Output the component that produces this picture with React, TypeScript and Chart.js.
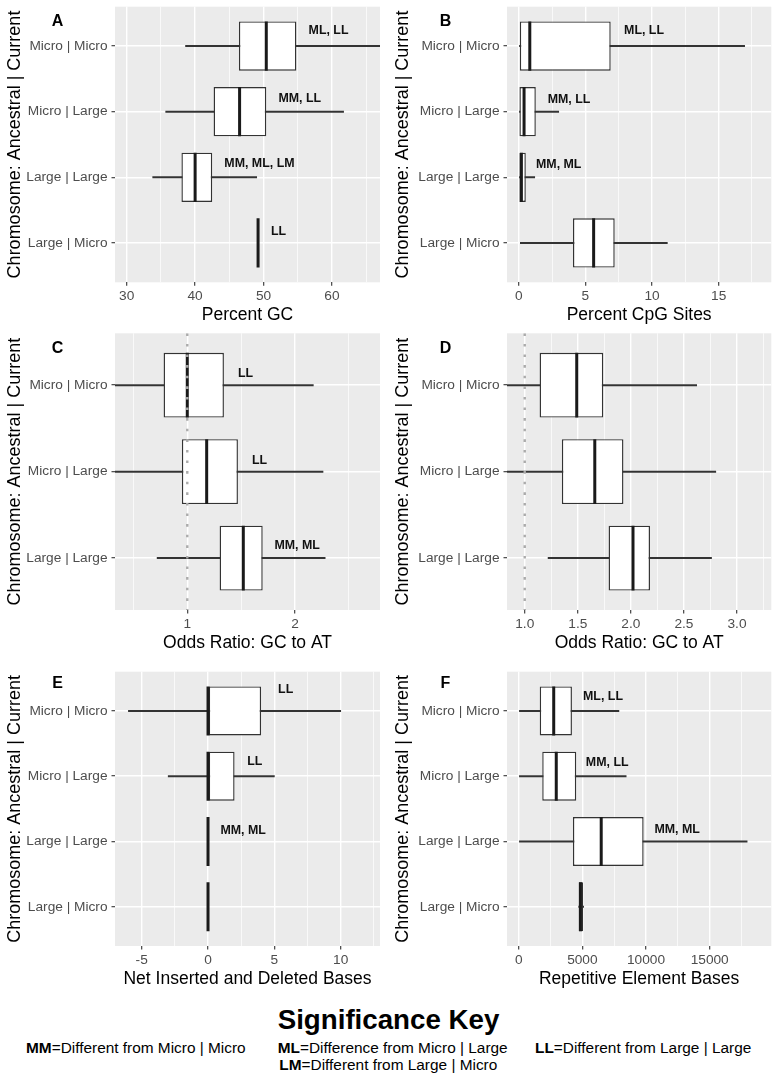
import React, { useEffect, useRef } from "react";
import { Chart, registerables } from "chart.js";

Chart.register(...registerables);

const FONT = '"Liberation Sans", Arial, Helvetica, sans-serif';

// ---------- categories ----------
const CATS_4 = ["Micro | Micro", "Micro | Large", "Large | Large", "Large | Micro"];
const CATS_3 = ["Micro | Micro", "Micro | Large", "Large | Large"];
const Y_TITLE = "Chromosome: Ancestral | Current";

// ---------- Panel A : Percent GC ----------
const A_MIN = [38.6, 35.7, 33.8, 49.2];
const A_Q1 = [46.4, 42.7, 38.0, 49.2];
const A_MED = [50.4, 46.5, 40.0, 49.2];
const A_Q3 = [54.8, 50.4, 42.5, 49.2];
const A_MAX = [67.0, 61.7, 49.0, 49.2];
const A_RANGE = [28.29, 67.02];
const A_TICKS = [30, 40, 50, 60];
const A_TICK_LABELS = ["30", "40", "50", "60"];
const A_MINOR = [35, 45, 55, 65];
const A_NOTES = ["ML, LL", "MM, LL", "MM, ML, LM", "LL"];
const A_NOTE_X = [59.5, 55.3, 49.4, 52.2];
const A_NOTE_DY = [-0.23, -0.2, -0.21, -0.175];

// ---------- Panel B : Percent CpG Sites ----------
const B_MIN = [0, 0, 0, 0.12];
const B_Q1 = [0.08, 0.0, 0.0, 4.07];
const B_MED = [0.83, 0.4, 0.2, 5.62];
const B_Q3 = [6.9, 1.28, 0.53, 7.2];
const B_MAX = [16.95, 3.0, 1.2, 11.15];
const B_RANGE = [-0.88, 18.95];
const B_TICKS = [0, 5, 10, 15];
const B_TICK_LABELS = ["0", "5", "10", "15"];
const B_MINOR = [2.5, 7.5, 12.5, 17.5];
const B_NOTES = ["ML, LL", "MM, LL", "MM, ML", ""];
const B_NOTE_X = [9.4, 3.77, 3.0, 0];
const B_NOTE_DY = [-0.235, -0.19, -0.2, 0];

// ---------- Panel C : Odds Ratio GC to AT ----------
const C_MIN = [0.33, 0.33, 0.72];
const C_Q1 = [0.78, 0.95, 1.30];
const C_MED = [1.0, 1.18, 1.52];
const C_Q3 = [1.34, 1.47, 1.70];
const C_MAX = [2.17, 2.26, 2.28];
const C_RANGE = [0.329, 2.789];
const C_TICKS = [1, 2];
const C_TICK_LABELS = ["1", "2"];
const C_MINOR = [0.5, 1.5, 2.5];
const C_NOTES = ["LL", "LL", "MM, ML"];
const C_NOTE_X = [1.54, 1.67, 2.02];
const C_NOTE_DY = [-0.135, -0.132, -0.146];
const C_REF = 1;

// ---------- Panel D : Odds Ratio GC to AT ----------
const D_MIN = [0.833, 0.833, 1.22];
const D_Q1 = [1.14, 1.35, 1.79];
const D_MED = [1.49, 1.66, 2.02];
const D_Q3 = [1.74, 1.93, 2.18];
const D_MAX = [2.62, 2.80, 2.76];
const D_RANGE = [0.833, 3.323];
const D_TICKS = [1.0, 1.5, 2.0, 2.5, 3.0];
const D_TICK_LABELS = ["1.0", "1.5", "2.0", "2.5", "3.0"];
const D_MINOR = [1.25, 1.75, 2.25, 2.75, 3.25];
const D_NOTES = ["", "", ""];
const D_NOTE_X = [0, 0, 0];
const D_NOTE_DY = [0, 0, 0];
const D_REF = 1;

// ---------- Panel E : Net Inserted and Deleted Bases ----------
const E_MIN = [-6.0, -3.0, 0, 0];
const E_Q1 = [0, 0, 0, 0];
const E_MED = [0, 0, 0, 0];
const E_Q3 = [4.0, 2.0, 0, 0];
const E_MAX = [10.0, 5.0, 0, 0];
const E_RANGE = [-7.01, 12.96];
const E_TICKS = [-5, 0, 5, 10];
const E_TICK_LABELS = ["-5", "0", "5", "10"];
const E_MINOR = [-2.5, 2.5, 7.5, 12.5];
const E_NOTES = ["LL", "LL", "MM, ML", ""];
const E_NOTE_X = [5.85, 3.53, 2.65, 0];
const E_NOTE_DY = [-0.33, -0.22, -0.16, 0];

// ---------- Panel F : Repetitive Element Bases ----------
const F_MIN = [0, 0, 0, 4710];
const F_Q1 = [1650, 1850, 4260, 4710];
const F_MED = [2750, 2950, 6480, 4850];
const F_Q3 = [4180, 4520, 9810, 5050];
const F_MAX = [7870, 8440, 17940, 5100];
const F_RANGE = [-919, 19838];
const F_TICKS = [0, 5000, 10000, 15000];
const F_TICK_LABELS = ["0", "5000", "10000", "15000"];
const F_MINOR = [2500, 7500, 12500, 17500];
const F_NOTES = ["ML, LL", "MM, LL", "MM, ML", ""];
const F_NOTE_X = [6620, 6950, 12440, 0];
const F_NOTE_DY = [-0.217, -0.214, -0.19, 0];

type Spec = {
  letter: string;
  cats: string[];
  min: number[];
  q1: number[];
  med: number[];
  q3: number[];
  max: number[];
  range: number[];
  ticks: number[];
  tickLabels: string[];
  minor: number[];
  notes: string[];
  noteX: number[];
  noteDy: number[];
  xTitle: string;
  ref?: number;
};

const PANELS: Spec[] = [
  { letter: "A", cats: CATS_4, min: A_MIN, q1: A_Q1, med: A_MED, q3: A_Q3, max: A_MAX, range: A_RANGE, ticks: A_TICKS, tickLabels: A_TICK_LABELS, minor: A_MINOR, notes: A_NOTES, noteX: A_NOTE_X, noteDy: A_NOTE_DY, xTitle: "Percent GC" },
  { letter: "B", cats: CATS_4, min: B_MIN, q1: B_Q1, med: B_MED, q3: B_Q3, max: B_MAX, range: B_RANGE, ticks: B_TICKS, tickLabels: B_TICK_LABELS, minor: B_MINOR, notes: B_NOTES, noteX: B_NOTE_X, noteDy: B_NOTE_DY, xTitle: "Percent CpG Sites" },
  { letter: "C", cats: CATS_3, min: C_MIN, q1: C_Q1, med: C_MED, q3: C_Q3, max: C_MAX, range: C_RANGE, ticks: C_TICKS, tickLabels: C_TICK_LABELS, minor: C_MINOR, notes: C_NOTES, noteX: C_NOTE_X, noteDy: C_NOTE_DY, xTitle: "Odds Ratio: GC to AT", ref: C_REF },
  { letter: "D", cats: CATS_3, min: D_MIN, q1: D_Q1, med: D_MED, q3: D_Q3, max: D_MAX, range: D_RANGE, ticks: D_TICKS, tickLabels: D_TICK_LABELS, minor: D_MINOR, notes: D_NOTES, noteX: D_NOTE_X, noteDy: D_NOTE_DY, xTitle: "Odds Ratio: GC to AT", ref: D_REF },
  { letter: "E", cats: CATS_4, min: E_MIN, q1: E_Q1, med: E_MED, q3: E_Q3, max: E_MAX, range: E_RANGE, ticks: E_TICKS, tickLabels: E_TICK_LABELS, minor: E_MINOR, notes: E_NOTES, noteX: E_NOTE_X, noteDy: E_NOTE_DY, xTitle: "Net Inserted and Deleted Bases" },
  { letter: "F", cats: CATS_4, min: F_MIN, q1: F_Q1, med: F_MED, q3: F_Q3, max: F_MAX, range: F_RANGE, ticks: F_TICKS, tickLabels: F_TICK_LABELS, minor: F_MINOR, notes: F_NOTES, noteX: F_NOTE_X, noteDy: F_NOTE_DY, xTitle: "Repetitive Element Bases" },
];

// ---------- layout (pixels) ----------
const COLS = [
  { left: 0, width: 388, yAxisWidth: 115, padRight: 8 },
  { left: 388, width: 389, yAxisWidth: 119, padRight: 5.7 },
];
const ROWS = [
  { top: 0, height: 328, padTop: 6.7, padBottom: 1.7, letterDy: 14.6 },
  { top: 328, height: 332, padTop: 5.3, padBottom: 6, letterDy: 15 },
  { top: 660, height: 340, padTop: 11.7, padBottom: 10, letterDy: 11.6 },
];
const X_AXIS_H = 44;

function buildConfig(p: Spec, col: any, row: any): any {
  const n = p.cats.length;
  const allTicks = [...p.ticks, ...p.minor].sort((a, b) => a - b);
  const majorIdx = (v: number) => p.ticks.findIndex((t) => Math.abs(t - v) < 1e-9);
  const isMajor = (v: number) => majorIdx(v) >= 0;

  const datasets: any[] = [
    {
      type: "bar",
      label: "whisker",
      data: p.cats.map((_, i) => ({ x: [p.min[i], p.max[i]], y: i + 1 })),
      backgroundColor: "#333333",
      borderWidth: 0,
      barThickness: 1.35,
      grouped: false,
      order: 5,
    },
    {
      type: "bar",
      label: "box",
      data: p.cats.map((_, i) => ({ x: [p.q1[i], p.q3[i]], y: i + 1 })),
      backgroundColor: "#FFFFFF",
      borderColor: "#333333",
      borderWidth: 1.4,
      borderSkipped: false,
      barPercentage: 0.75,
      categoryPercentage: 1,
      grouped: false,
      order: 4,
    },
    {
      type: "scatter",
      label: "median",
      data: p.cats.map((_, i) => ({ x: p.med[i], y: i + 1 })),
      pointStyle: "line",
      pointRotation: 90,
      pointRadius: (ctx: any) => {
        const s = ctx.chart.scales.y;
        return Math.abs(s.getPixelForValue(2) - s.getPixelForValue(1)) * 0.375;
      },
      pointBorderColor: "#1A1A1A",
      pointBackgroundColor: "#1A1A1A",
      pointBorderWidth: 3,
      order: 3,
    },
  ];
  if (p.ref !== undefined) {
    datasets.push({
      type: "line",
      label: "ref",
      data: [
        { x: p.ref, y: 0.4 },
        { x: p.ref, y: n + 0.6 },
      ],
      borderColor: "#ABABAB",
      borderWidth: 2.4,
      borderDash: [2.6, 8],
      pointRadius: 0,
      fill: false,
      order: 1,
    });
  }

  const decor = {
    id: "decor" + p.letter,
    beforeDraw(chart: any) {
      const { ctx, chartArea: a } = chart;
      ctx.save();
      ctx.fillStyle = "#EBEBEB";
      ctx.fillRect(a.left, a.top, a.right - a.left, a.bottom - a.top);
      ctx.restore();
    },
    afterDatasetsDraw(chart: any) {
      const { ctx } = chart;
      const xs = chart.scales.x;
      const ys = chart.scales.y;
      ctx.save();
      ctx.font = `bold 12.4px ${FONT}`;
      ctx.fillStyle = "#111111";
      ctx.textAlign = "center";
      ctx.textBaseline = "middle";
      p.notes.forEach((t, i) => {
        if (!t) return;
        ctx.fillText(t, xs.getPixelForValue(p.noteX[i]), ys.getPixelForValue(i + 1 + p.noteDy[i]));
      });
      ctx.restore();
    },
    afterDraw(chart: any) {
      const { ctx, chartArea: a } = chart;
      ctx.save();
      ctx.font = `bold 16px ${FONT}`;
      ctx.fillStyle = "#000000";
      ctx.textAlign = "center";
      ctx.textBaseline = "middle";
      ctx.fillText(p.letter, 57.5, a.top + row.letterDy);
      ctx.restore();
    },
  };

  const tickFont = { family: FONT, size: 13.7 };
  const titleFont = { family: FONT, size: 17.5 };
  const yTitleFont = { family: FONT, size: 18 };

  return {
    type: "bar",
    data: { datasets },
    plugins: [decor],
    options: {
      indexAxis: "y",
      animation: false,
      responsive: false,
      events: [],
      layout: { padding: { left: 0, right: col.padRight, top: row.padTop, bottom: row.padBottom } },
      plugins: { legend: { display: false }, tooltip: { enabled: false } },
      scales: {
        x: {
          type: "linear",
          position: "bottom",
          offset: false,
          min: p.range[0],
          max: p.range[1],
          afterBuildTicks: (ax: any) => {
            ax.ticks = allTicks.map((v) => ({ value: v }));
          },
          afterFit: (s: any) => {
            s.height = X_AXIS_H;
            s.paddingLeft = 0;
            s.paddingRight = 0;
          },
          ticks: {
            autoSkip: false,
            maxRotation: 0,
            minRotation: 0,
            padding: 2.7,
            color: "#4D4D4D",
            font: tickFont,
            callback: (v: number) => {
              const k = majorIdx(v);
              return k >= 0 ? p.tickLabels[k] : "";
            },
          },
          grid: {
            offset: false,
            color: "#FFFFFF",
            lineWidth: (c: any) => (c.tick && isMajor(c.tick.value) ? 1.4 : 0.7),
            drawTicks: true,
            tickLength: 3.5,
            tickWidth: 1.1,
            tickColor: (c: any) => (c.tick && isMajor(c.tick.value) ? "#333333" : "rgba(0,0,0,0)"),
          },
          border: { display: false },
          title: {
            display: true,
            text: p.xTitle,
            color: "#000000",
            font: titleFont,
            padding: { top: 0, bottom: 0.5 },
          },
        },
        y: {
          type: "linear",
          position: "left",
          reverse: true,
          offset: false,
          min: 0.4,
          max: n + 0.6,
          afterBuildTicks: (ax: any) => {
            ax.ticks = p.cats.map((_, i) => ({ value: i + 1 }));
          },
          afterFit: (s: any) => {
            s.width = col.yAxisWidth;
            s.paddingTop = 0;
            s.paddingBottom = 0;
          },
          ticks: {
            autoSkip: false,
            padding: 4,
            color: "#4D4D4D",
            font: tickFont,
            callback: (v: number) => p.cats[Math.round(v) - 1] ?? "",
          },
          grid: {
            offset: false,
            color: "#FFFFFF",
            lineWidth: 1.4,
            drawTicks: true,
            tickLength: 3.5,
            tickWidth: 1.1,
            tickColor: "#333333",
          },
          border: { display: false },
          title: {
            display: true,
            text: Y_TITLE,
            color: "#000000",
            font: yTitleFont,
            padding: { top: 4.2, bottom: 0 },
          },
        },
      },
    },
  };
}

function Panel({ spec, col, row }: { spec: Spec; col: any; row: any }) {
  const ref = useRef<HTMLCanvasElement | null>(null);
  useEffect(() => {
    if (!ref.current) return;
    const chart = new Chart(ref.current, buildConfig(spec, col, row));
    return () => chart.destroy();
  }, [spec, col, row]);
  return (
    <canvas
      ref={ref}
      width={col.width}
      height={row.height}
      style={{ position: "absolute", left: col.left, top: row.top, width: col.width, height: row.height }}
    />
  );
}

const KEY_TITLE = "Significance Key";
const KEY_ITEMS = [
  { code: "MM", text: "=Different from Micro | Micro", left: 26, line: 0 },
  { code: "ML", text: "=Difference from Micro | Large", left: 277.7, line: 0 },
  { code: "LL", text: "=Different from Large | Large", left: 535, line: 0 },
  { code: "LM", text: "=Different from Large | Micro", left: 279.3, line: 1 },
];
const KEY_LINE_TOPS = [1039.6, 1057.3];

export default function App() {
  return (
    <div
      style={{
        position: "absolute",
        left: 0,
        top: 0,
        width: 777,
        height: 1079,
        background: "#FFFFFF",
        fontFamily: FONT,
        color: "#000",
        overflow: "hidden",
      }}
    >
      {PANELS.map((spec, i) => (
        <Panel key={spec.letter} spec={spec} col={COLS[i % 2]} row={ROWS[Math.floor(i / 2)]} />
      ))}
      <div
        style={{
          position: "absolute",
          left: 0,
          top: 1005.5,
          width: 777,
          textAlign: "center",
          fontSize: 27.7,
          lineHeight: "27.7px",
          fontWeight: "bold",
          whiteSpace: "nowrap",
        }}
      >
        {KEY_TITLE}
      </div>
      {KEY_ITEMS.map((k) => (
        <div
          key={k.code}
          style={{
            position: "absolute",
            left: k.left,
            top: KEY_LINE_TOPS[k.line],
            fontSize: 15.4,
            lineHeight: "15.4px",
            whiteSpace: "nowrap",
          }}
        >
          <b>{k.code}</b>
          {k.text}
        </div>
      ))}
    </div>
  );
}
